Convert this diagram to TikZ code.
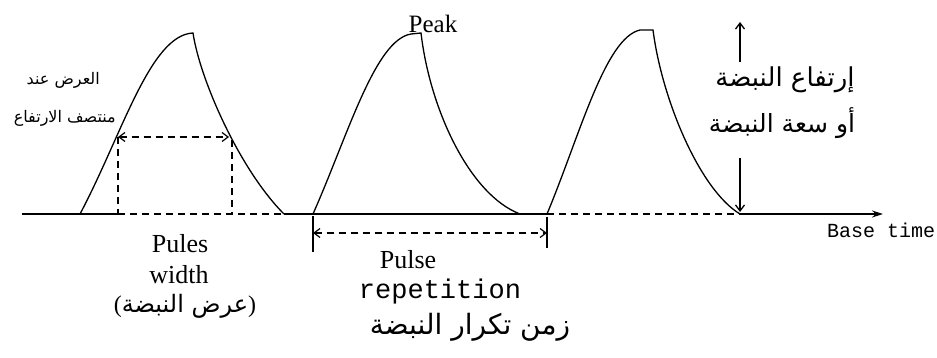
\documentclass[tikz,border=0pt]{standalone}
\usepackage{fontspec}
\setmainfont{Liberation Serif}
\newfontfamily\arabicfont[Script=Arabic]{DejaVu Sans}
\newfontfamily\handfont{Liberation Mono}
\TeXXeTstate=1
\usetikzlibrary{arrows.meta}

\begin{document}
\begin{tikzpicture}[
  x=1pt, y=-1pt,
  every node/.style={inner sep=0pt},
  sig/.style={line width=1.3pt},
  guide/.style={line width=1.2pt, dash pattern=on 7pt off 5pt},
  tick/.style={line width=1.8pt},
  barb/.style={-{Straight Barb[length=6pt,width=9pt]}},
  twobarb/.style={{Straight Barb[length=6pt,width=9pt]}-{Straight Barb[length=6pt,width=9pt]}},
  lbl/.style={font=\fontsize{#1}{#1}\selectfont},
  hand/.style={font=\handfont\fontsize{#1}{#1}\selectfont},
  arlbl/.style={font=\arabicfont\fontsize{#1}{#1}\selectfont},
]
  \useasboundingbox (0,0) rectangle (937,358);

  % base line points
  \coordinate (b0)   at (22,214);
  \coordinate (p1a)  at (80,214);
  \coordinate (wl)   at (118,214);
  \coordinate (wr)   at (232,214);
  \coordinate (p1b)  at (284,214);
  \coordinate (p2a)  at (313,214);
  \coordinate (p2b)  at (520,214);
  \coordinate (p3a)  at (547,214);
  \coordinate (p3b)  at (740,214);
  \coordinate (bend) at (883,214);

  \draw[sig] (b0) -- (wl);
  \draw[guide] (wl) -- (p1b);
  \draw[sig] (p1b) -- (p3a);
  \draw[guide] (p3a) -- (p3b);
  \draw[sig, -{Stealth[length=11pt,width=7pt]}] (p3b) -- (bend);

  % the three pulses
  \draw[sig] (p1a) .. controls (122,135) and (150,35) .. (193,33)
    .. controls (200,80) and (240,170) .. (p1b);
  \draw[sig] (p2a) .. controls (348,135) and (375,40) .. (411,34) -- (421,33)
    .. controls (430,110) and (470,195) .. (p2b);
  \draw[sig] (p3a) .. controls (580,135) and (605,38) .. (640,30) -- (653,30)
    .. controls (662,100) and (700,190) .. (p3b);

  % width at half height
  \coordinate (wa) at (118,137);
  \coordinate (wb) at (229,137);
  \coordinate (wc) at (232,140);
  \draw[guide, twobarb] (wa) -- (wb);
  \draw[guide] (wa) -- (wl);
  \draw[guide] (wc) -- (wr);

  % repetition time
  \coordinate (ra)  at (313,233);
  \coordinate (rb)  at (547,233);
  \coordinate (ra1) at (313,216);
  \coordinate (ra2) at (313,252);
  \coordinate (rb1) at (547,217);
  \coordinate (rb2) at (547,248);
  \draw[guide, twobarb] (ra) -- (rb);
  \draw[tick] (ra1) -- (ra2);
  \draw[tick] (rb1) -- (rb2);

  % labels
  \node[lbl=25] (peak) at (433,24) {Peak};
  \node[arlbl=16, anchor=east] (half1) at (100,80) {\beginR العرض عند\endR};
  \node[arlbl=16, anchor=east] (half2) at (116,118) {\beginR منتصف الارتفاع\endR};

  \node[lbl=26] (pw1) at (180,244) {Pules};
  \node[lbl=26] (pw2) at (179,275) {width};
  \node[arlbl=24] (pw3) at (185,306) {{\normalfont(}\beginR عرض النبضة\endR{\normalfont)}};

  \node[lbl=26] (pr1) at (408,260) {Pulse};
  \node[hand=27] (pr2) at (440,292) {repetition};
  \node[arlbl=28] (pr3) at (470,327) {\beginR زمن تكرار النبضة\endR};

  \node[arlbl=26] (ht1) at (785,80) {\beginR إرتفاع النبضة\endR};
  \node[arlbl=25] (ht2) at (782,123) {\beginR أو سعة النبضة\endR};
  \node[hand=20] (base) at (881,230) {Base time};

  % height arrows
  \coordinate (hu0) at (740,62);
  \coordinate (hu1) at (740,22);
  \coordinate (hd0) at (740,158);
  \coordinate (hd1) at (740,212);
  \draw[sig, barb] (hu0) -- (hu1);
  \draw[sig, barb] (hd0) -- (hd1);
\end{tikzpicture}
\end{document}
